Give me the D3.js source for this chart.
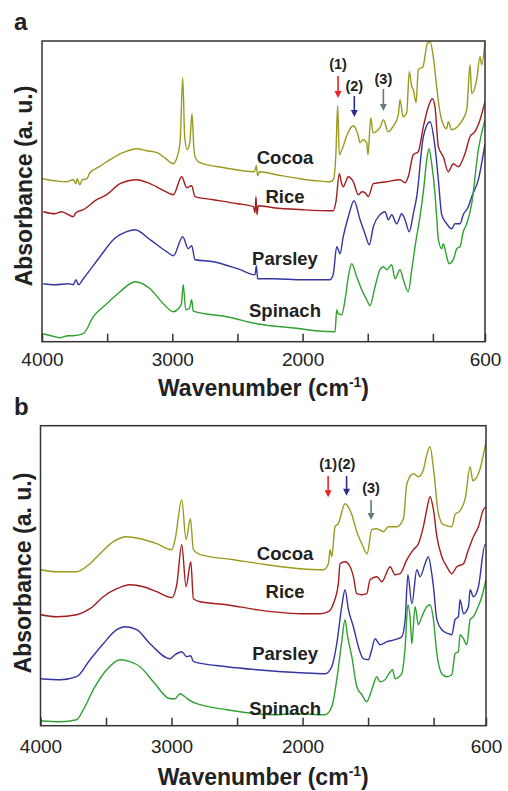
<!DOCTYPE html>
<html><head><meta charset="utf-8">
<script src="https://cdn.jsdelivr.net/npm/d3@7/dist/d3.min.js"></script>
<style>body{margin:0;background:#fff}svg{display:block}</style>
</head><body>
<svg id="c" width="508" height="791"></svg>
<script>
// ---------- DATA ----------
const seriesNames = ["Cocoa", "Rice", "Parsley", "Spinach"];
const tickValues = [4000, 3500, 3000, 2500, 2000, 1500, 1000, 600];
const tickLabels = [4000, 3000, 2000, 600];
const peakLabels = ["(1)", "(2)", "(3)"];

// panel a : [wavenumber, absorbance (a.u., offset)]
const aCocoa = [[3998,163],[3900,161],[3808,160],[3760,162],[3740,158],[3731,163],[3710,157],[3690,162],[3655,163],[3632,169],[3560,175],[3478,182],[3380,189],[3271,193],[3200,191],[3117,189],[3050,183],[2995,178],[2960,186],[2940,200],[2920,264],[2905,205],[2885,192],[2865,200],[2849,228],[2835,195],[2826,185],[2787,179],[2600,174],[2370,170],[2355,176],[2345,166],[2330,170],[2200,167],[2020,163],[1900,161],[1790,160],[1764,162],[1744,189],[1731,236],[1718,187],[1690,195],[1652,209],[1611,216],[1575,207],[1559,199],[1536,202],[1508,199],[1498,187],[1477,224],[1460,209],[1406,214],[1380,222],[1344,210],[1306,215],[1265,227],[1252,242],[1229,225],[1201,229],[1181,270],[1162,255],[1150,252],[1129,239],[1112,272],[1076,275],[1043,298],[1022,300],[997,285],[971,255],[945,229],[920,217],[894,213],[882,220],[856,212],[792,218],[740,232],[715,277],[702,248],[664,262],[638,285],[625,277],[600,300]];
const aRice = [[3990,130],[3900,128],[3850,130],[3760,125],[3740,129],[3683,132],[3580,142],[3503,147],[3401,158],[3273,162],[3171,158],[3050,150],[2992,147],[2928,165],[2889,154],[2851,156],[2826,145],[2685,142],[2500,138],[2378,135],[2365,129],[2358,145],[2350,127],[2340,136],[2225,134],[2000,132],[1790,131],[1764,131],[1744,140],[1718,168],[1700,158],[1688,155],[1649,165],[1611,160],[1572,147],[1545,150],[1521,149],[1496,145],[1457,158],[1354,160],[1252,162],[1214,159],[1189,165],[1150,187],[1112,190],[1073,215],[1035,235],[1004,243],[984,235],[958,195],[920,185],[882,170],[843,178],[805,175],[754,188],[715,205],[677,210],[638,222],[600,240]];
const aParsley = [[3990,58],[3900,57],[3800,58],[3760,57],[3740,62],[3720,57],[3683,63],[3555,85],[3453,102],[3350,110],[3286,112],[3171,102],[3043,90],[2992,86],[2920,105],[2877,93],[2851,96],[2826,82],[2685,80],[2480,72],[2365,67],[2355,76],[2345,63],[2225,63],[2000,62],[1790,62],[1764,68],[1738,95],[1726,92],[1713,88],[1688,105],[1649,125],[1605,141],[1559,122],[1521,108],[1488,97],[1457,115],[1406,127],[1367,130],[1342,122],[1316,127],[1278,118],[1239,128],[1214,122],[1181,110],[1150,128],[1124,145],[1073,205],[1022,220],[984,195],[958,162],[932,127],[894,118],[856,113],[830,118],[792,118],[767,127],[728,135],[702,145],[651,162],[600,198]];
const aSpinach = [[3990,8],[3900,5],[3862,4],[3800,6],[3760,6],[3683,8],[3606,25],[3503,38],[3401,50],[3286,60],[3171,53],[3069,38],[2992,30],[2954,33],[2930,38],[2916,57],[2897,32],[2870,33],[2851,42],[2840,31],[2826,30],[2582,25],[2352,18],[2020,13],[1900,11],[1751,10],[1738,32],[1726,28],[1700,27],[1674,42],[1649,65],[1623,78],[1585,65],[1546,52],[1508,42],[1483,36],[1444,55],[1406,72],[1380,75],[1354,72],[1316,77],[1291,63],[1252,72],[1227,62],[1189,50],[1162,72],[1137,95],[1099,125],[1073,150],[1047,182],[1030,193],[1009,178],[984,148],[971,125],[958,102],[932,93],[920,98],[894,85],[876,78],[843,82],[817,93],[792,95],[767,110],[740,118],[702,138],[651,192],[600,222]];

// panel b
const bCocoa = [[4000,156],[3876,154],[3724,154],[3622,162],[3546,172],[3444,184],[3342,189],[3240,187],[3113,182],[2998,176],[2973,186],[2922,226],[2889,186],[2856,207],[2833,176],[2782,171],[2528,166],[2273,161],[2019,157],[1841,156],[1803,162],[1790,176],[1777,169],[1752,199],[1727,202],[1676,222],[1624,211],[1586,194],[1548,182],[1507,172],[1472,196],[1433,197],[1383,194],[1345,199],[1281,199],[1230,207],[1204,242],[1154,252],[1116,249],[1078,256],[1052,271],[1027,279],[1001,257],[963,212],[925,201],[861,199],[836,211],[798,215],[759,227],[721,259],[701,245],[645,257],[620,271],[600,284]];
const bRice = [[4000,111],[3876,109],[3724,111],[3622,117],[3521,129],[3418,137],[3317,141],[3215,139],[3113,134],[2998,128],[2960,141],[2922,181],[2889,139],[2853,164],[2833,127],[2782,124],[2579,121],[2350,116],[2019,112],[1866,112],[1803,114],[1765,122],[1727,142],[1714,162],[1676,164],[1637,159],[1612,149],[1586,132],[1548,131],[1510,132],[1485,146],[1433,149],[1395,144],[1332,159],[1294,151],[1256,152],[1204,166],[1154,176],[1116,182],[1078,199],[1052,216],[1027,229],[1001,216],[975,189],[937,169],[899,159],[861,152],[823,159],[772,162],[734,176],[696,189],[658,199],[620,216],[600,219]];
const bParsley = [[4000,47],[3847,46],[3724,49],[3622,66],[3521,82],[3418,96],[3355,99],[3266,96],[3164,82],[3011,67],[2973,71],[2922,74],[2884,69],[2853,70],[2833,64],[2579,59],[2350,56],[2019,53],[1828,52],[1777,59],[1739,82],[1701,119],[1676,136],[1650,116],[1612,99],[1574,79],[1536,67],[1498,66],[1472,76],[1447,87],[1409,81],[1357,84],[1294,86],[1243,89],[1217,106],[1196,151],[1166,122],[1128,156],[1103,149],[1065,162],[1040,169],[1014,152],[1001,139],[975,106],[937,96],[887,92],[861,91],[836,106],[811,109],[798,126],[772,112],[734,119],[721,136],[696,129],[658,139],[607,181],[600,180]];
const bSpinach = [[4000,5],[3847,4],[3724,6],[3673,16],[3597,36],[3495,56],[3393,66],[3317,64],[3240,59],[3139,44],[3011,27],[2973,27],[2935,32],[2897,29],[2859,25],[2782,21],[2579,16],[2350,12],[2223,11],[2057,12],[1828,11],[1777,19],[1739,46],[1701,84],[1676,106],[1656,89],[1624,69],[1586,39],[1548,31],[1510,24],[1472,36],[1433,49],[1409,44],[1370,46],[1345,51],[1314,56],[1294,47],[1243,52],[1217,79],[1196,121],[1178,106],[1166,82],[1141,119],[1116,101],[1090,109],[1052,119],[1027,121],[1001,106],[975,72],[937,52],[899,49],[861,51],[836,72],[811,74],[798,91],[772,87],[747,81],[721,106],[696,109],[670,116],[632,129],[600,146]];

// ---------- STYLE / LAYOUT ----------
const seriesColors = ["#9c9a1e", "#a31d1d", "#3434a2", "#30a030"];
const arrowColors = ["#ee2020", "#2c2c8c", "#5f7d7a"];
const FONT = "'Liberation Sans', Arial, Helvetica, sans-serif";

const panels = [
  { letter: "a", letterPos: [14, 30], xr: [42, 485], yr: [341.7, 41], ymax: 300.7,
    series: [aCocoa, aRice, aParsley, aSpinach],
    nameW: 2135, nameV: [177.7, 138.7, 76.7, 24.7],
    peaks: [ {w:1728, t:272.7, a1:265.7, a2:243.7},
             {w:1603, t:250.7, a1:245.7, a2:224.7},
             {w:1380, t:257.7, a1:252.7, a2:230.7} ],
    tickPad: 10.5, titleY: 396, yTitleX: 32, yTitleY: 186 },
  { letter: "b", letterPos: [14, 415], xr: [40.5, 486], yr: [725.7, 425.7], ymax: 300,
    series: [bCocoa, bRice, bParsley, bSpinach],
    nameW: 2133, nameV: [165.7, 127.7, 65.7, 10.7],
    peaks: [ {w:1805, t:256.7, a1:249.7, a2:228.4},
             {w:1664, t:256.7, a1:249.7, a2:230},
             {w:1477, t:232.7, a1:225.7, a2:205.7} ],
    tickPad: 13.5, titleY: 785, yTitleX: 31, yTitleY: 573 }
];

const svg = d3.select("#c");

panels.forEach((p, pi) => {
  const x = d3.scaleLinear().domain([4000, 600]).range(p.xr);
  const y = d3.scaleLinear().domain([0, p.ymax]).range(p.yr);
  const g = svg.append("g");

  const clipId = "clip" + pi;
  svg.append("clipPath").attr("id", clipId).append("rect")
    .attr("x", p.xr[0]).attr("y", p.yr[1])
    .attr("width", p.xr[1] - p.xr[0]).attr("height", p.yr[0] - p.yr[1]);

  const line = d3.line().x(d => x(d[0])).y(d => y(d[1])).curve(d3.curveMonotoneX);
  const lg = g.append("g").attr("clip-path", `url(#${clipId})`);
  p.series.forEach((s, i) => {
    lg.append("path").datum(s).attr("d", line)
      .attr("fill", "none").attr("stroke", seriesColors[i])
      .attr("stroke-width", 1.4).attr("stroke-linejoin", "round");
  });

  // frame
  g.append("rect").attr("x", p.xr[0]).attr("y", p.yr[1])
    .attr("width", p.xr[1] - p.xr[0]).attr("height", p.yr[0] - p.yr[1])
    .attr("fill", "none").attr("stroke", "#333").attr("stroke-width", 1.5);

  // x axis
  const ax = d3.axisBottom(x).tickValues(tickValues).tickSizeInner(-8).tickSizeOuter(0)
    .tickPadding(p.tickPad).tickFormat(d => tickLabels.includes(d) ? d : "");
  const axg = g.append("g").attr("transform", `translate(0,${p.yr[0]})`).call(ax);
  axg.select(".domain").remove();
  axg.selectAll(".tick line").attr("stroke", "#333").attr("stroke-width", 1.5);
  axg.selectAll(".tick text").attr("font-family", FONT).attr("font-size", 19).attr("fill", "#222");

  // x title
  const xt = g.append("text").attr("x", (p.xr[0] + p.xr[1]) / 2 + 0).attr("y", p.titleY)
    .attr("text-anchor", "middle").attr("font-family", FONT).attr("font-size", 23)
    .attr("font-weight", "bold").attr("fill", "#222");
  xt.append("tspan").text("Wavenumber (cm");
  xt.append("tspan").text("-1").attr("font-size", 14).attr("dy", -9);
  xt.append("tspan").text(")").attr("dy", 9);

  // y title
  g.append("text").attr("transform", `translate(${p.yTitleX},${p.yTitleY}) rotate(-90)`)
    .attr("text-anchor", "middle").attr("font-family", FONT).attr("font-size", 23)
    .attr("font-weight", "bold").attr("fill", "#222").text("Absorbance (a. u.)");

  // panel letter
  g.append("text").attr("x", p.letterPos[0]).attr("y", p.letterPos[1])
    .attr("font-family", FONT).attr("font-size", 24).attr("font-weight", "bold")
    .attr("fill", "#222").text(p.letter);

  // series names
  seriesNames.forEach((n, i) => {
    g.append("text").attr("x", x(p.nameW)).attr("y", y(p.nameV[i]))
      .attr("text-anchor", "middle").attr("font-family", FONT).attr("font-size", 18.5)
      .attr("font-weight", "bold").attr("fill", "#222").text(n);
  });

  // peak arrows
  p.peaks.forEach((k, i) => {
    const px = x(k.w);
    g.append("text").attr("x", px).attr("y", y(k.t)).attr("text-anchor", "middle")
      .attr("font-family", FONT).attr("font-size", 14.5).attr("font-weight", "bold")
      .attr("fill", "#222").text(peakLabels[i]);
    const y1 = y(k.a1), y2 = y(k.a2);
    g.append("line").attr("x1", px).attr("x2", px).attr("y1", y1).attr("y2", y2 - 5)
      .attr("stroke", arrowColors[i]).attr("stroke-width", 1.6);
    g.append("path")
      .attr("d", `M${px - 3.5},${y2 - 7} L${px + 3.5},${y2 - 7} L${px},${y2} Z`)
      .attr("fill", arrowColors[i]);
  });
});
</script>
</body></html>
